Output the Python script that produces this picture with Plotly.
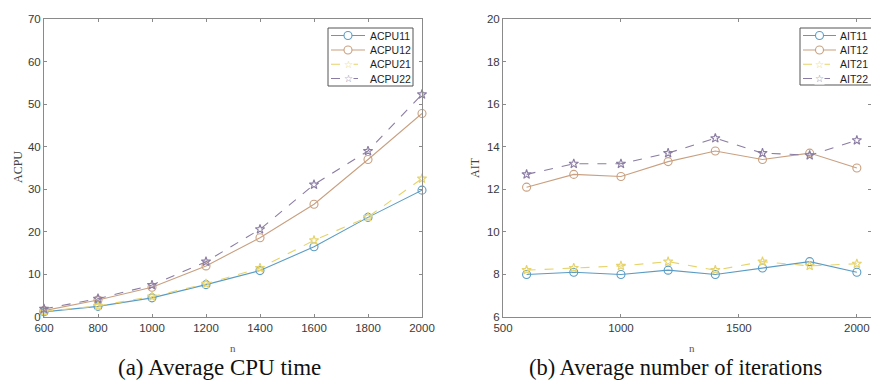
import plotly.graph_objects as go

n_vals = [600, 800, 1000, 1200, 1400, 1600, 1800, 2000]

acpu11 = [1.2, 2.5, 4.5, 7.6, 10.9, 16.5, 23.4, 29.8]
acpu12 = [1.5, 4.0, 7.0, 12.0, 18.6, 26.5, 37.0, 47.8]
acpu21 = [1.3, 2.6, 4.8, 7.8, 11.5, 18.0, 23.5, 32.5]
acpu22 = [1.9, 4.3, 7.5, 13.0, 20.6, 31.1, 39.0, 52.3]

ait11 = [8.0, 8.1, 8.0, 8.2, 8.0, 8.3, 8.6, 8.1]
ait12 = [12.1, 12.7, 12.6, 13.3, 13.8, 13.4, 13.7, 13.0]
ait21 = [8.2, 8.3, 8.4, 8.6, 8.2, 8.6, 8.4, 8.5]
ait22 = [12.7, 13.2, 13.2, 13.7, 14.4, 13.7, 13.6, 14.3]

left_ticks_x = [600, 800, 1000, 1200, 1400, 1600, 1800, 2000]
left_ticks_y = [0, 10, 20, 30, 40, 50, 60, 70]
right_ticks_x = [500, 1000, 1500, 2000]
right_ticks_y = [6, 8, 10, 12, 14, 16, 18, 20]

left_names = ["ACPU11", "ACPU12", "ACPU21", "ACPU22"]
right_names = ["AIT11", "AIT12", "AIT21", "AIT22"]

COLORS = ["#5b9cc4", "#c9a080", "#e6d36a", "#8b7ca3"]
SYMBOLS = ["circle-open", "circle-open", "star-open", "star-open"]
MSIZE = [8, 8, 7, 7]
DASHES = ["solid", "solid", "dash", "dash"]

W, H = 871, 381


def px(x):
    return x / W


def py(y):
    return 1 - y / H


fig = go.Figure()

for i, (name, vals) in enumerate(zip(left_names, [acpu11, acpu12, acpu21, acpu22])):
    fig.add_trace(go.Scatter(
        x=n_vals, y=vals, name=name, mode="lines+markers", showlegend=False,
        line=dict(color=COLORS[i], width=1.1, dash=DASHES[i]),
        marker=dict(symbol=SYMBOLS[i], size=MSIZE[i], color=COLORS[i],
                    line=dict(width=1.1, color=COLORS[i])),
        xaxis="x", yaxis="y", cliponaxis=False))

for i, (name, vals) in enumerate(zip(right_names, [ait11, ait12, ait21, ait22])):
    fig.add_trace(go.Scatter(
        x=n_vals, y=vals, name=name, mode="lines+markers", showlegend=False,
        line=dict(color=COLORS[i], width=1.1, dash=DASHES[i]),
        marker=dict(symbol=SYMBOLS[i], size=MSIZE[i], color=COLORS[i],
                    line=dict(width=1.1, color=COLORS[i])),
        xaxis="x2", yaxis="y2", cliponaxis=False))

tickfont = dict(family="Liberation Sans, Arial, sans-serif", size=11.5, color="#3a3a3a")
axis_common = dict(showline=True, linecolor="#8a8a8a", linewidth=1, mirror="ticks",
                   ticks="inside", ticklen=3, tickcolor="#8a8a8a", showgrid=False,
                   zeroline=False, tickfont=tickfont, automargin=False)

y_dom = [py(317), py(19)]

fig.update_layout(
    width=W, height=H,
    margin=dict(l=0, r=0, t=0, b=0, autoexpand=False),
    paper_bgcolor="white", plot_bgcolor="white",
    showlegend=False,
    xaxis=dict(domain=[px(44), px(422)], range=[600, 2000], tickvals=left_ticks_x,
               anchor="y", **axis_common),
    yaxis=dict(domain=y_dom, range=[0, 70], tickvals=left_ticks_y, anchor="x", **axis_common),
    xaxis2=dict(domain=[px(503), 1.0], range=[500, 2060], tickvals=right_ticks_x,
                anchor="y2", **axis_common),
    yaxis2=dict(domain=y_dom, range=[6, 20], tickvals=right_ticks_y, anchor="x2", **axis_common),
)

shapes = []
annotations = []

# Legends (drawn as decoration boxes)
legend_specs = [
    dict(names=left_names, box=(328, 28, 413, 86), line=(331, 365), text_x=368),
    dict(names=right_names, box=(800, 28, 875, 85), line=(803, 836), text_x=838),
]
row_y = [35.5, 50, 64.3, 78.5]
legfont = dict(family="Liberation Sans, Arial, sans-serif", size=10.5, color="#1e1e1e")
for spec in legend_specs:
    x0, y0, x1, y1 = spec["box"]
    shapes.append(dict(type="rect", xref="paper", yref="paper", x0=px(x0), x1=px(x1),
                       y0=py(y1), y1=py(y0), line=dict(color="#555555", width=1),
                       fillcolor="white", layer="above"))
    lx0, lx1 = spec["line"]
    mx = (lx0 + lx1) / 2
    for i, name in enumerate(spec["names"]):
        yy = row_y[i]
        shapes.append(dict(type="line", xref="paper", yref="paper", x0=px(lx0), x1=px(lx1),
                           y0=py(yy), y1=py(yy), layer="above",
                           line=dict(color=COLORS[i], width=1.1, dash=DASHES[i])))
        if SYMBOLS[i].startswith("circle"):
            shapes.append(dict(type="circle", xref="paper", yref="paper",
                               xsizemode="pixel", ysizemode="pixel",
                               xanchor=px(mx), yanchor=py(yy), x0=-4, x1=4, y0=-4, y1=4,
                               fillcolor="white", layer="above",
                               line=dict(color=COLORS[i], width=1.1)))
        else:
            annotations.append(dict(text="☆", x=px(mx), y=py(yy), xref="paper", yref="paper",
                                    showarrow=False, xanchor="center", yanchor="middle",
                                    bgcolor="white", borderpad=0,
                                    font=dict(family="DejaVu Sans", size=10, color=COLORS[i])))
        annotations.append(dict(text=name, x=px(spec["text_x"]), y=py(yy), xref="paper", yref="paper",
                                showarrow=False, xanchor="left", yanchor="middle", font=legfont))

serif = "Liberation Serif, Times New Roman, serif"
annotations += [
    dict(text="(a) Average CPU time", x=px(219), y=py(367), xref="paper", yref="paper",
         showarrow=False, font=dict(family=serif, size=23, color="#111111"),
         xanchor="center", yanchor="middle"),
    dict(text="(b) Average number of iterations", x=px(675), y=py(367), xref="paper", yref="paper",
         showarrow=False, font=dict(family=serif, size=22.5, color="#111111"),
         xanchor="center", yanchor="middle"),
    dict(text="n", x=px(233), y=py(348), xref="paper", yref="paper",
         showarrow=False, font=dict(family=serif, size=11, color="#555555"),
         xanchor="center", yanchor="middle"),
    dict(text="n", x=px(692), y=py(348), xref="paper", yref="paper",
         showarrow=False, font=dict(family=serif, size=11, color="#555555"),
         xanchor="center", yanchor="middle"),
    dict(text="ACPU", x=px(18), y=py(167), xref="paper", yref="paper", textangle=-90,
         showarrow=False, font=dict(family=serif, size=12, color="#444444"),
         xanchor="center", yanchor="middle"),
    dict(text="AIT", x=px(475), y=py(167), xref="paper", yref="paper", textangle=-90,
         showarrow=False, font=dict(family=serif, size=12, color="#444444"),
         xanchor="center", yanchor="middle"),
]
fig.update_layout(shapes=shapes, annotations=annotations)

fig.write_html("out.html", config={"displayModeBar": False},
               post_script="document.body.style.margin='0';document.body.style.overflow='hidden';")
